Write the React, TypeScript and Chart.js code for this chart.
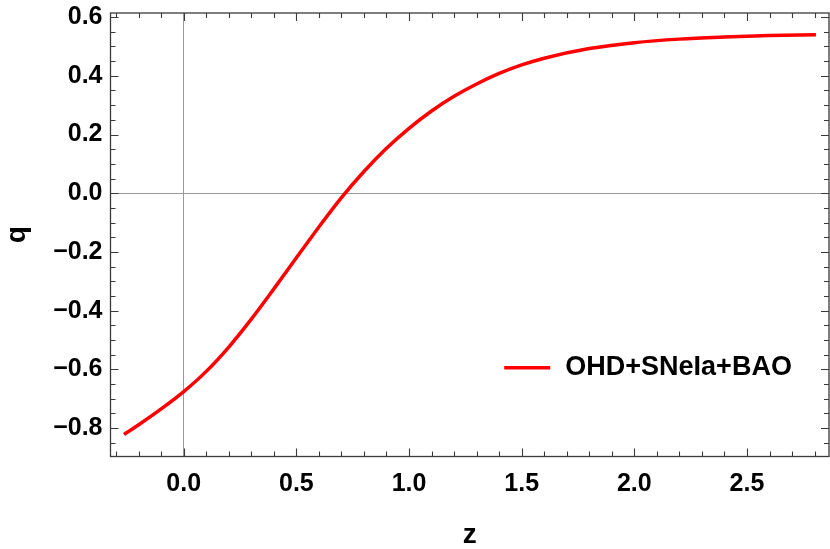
import React, { useEffect, useRef } from 'react';
import { Chart, registerables } from 'chart.js';

Chart.register(...registerables);

// Curve: deceleration parameter q versus redshift z
const zValues = [-0.265, -0.2, -0.1, 0, 0.1, 0.2, 0.3, 0.4, 0.5, 0.6, 0.7, 0.8, 0.9, 1.0, 1.1, 1.2, 1.3, 1.4, 1.5, 1.6, 1.8, 2.0, 2.2, 2.4, 2.6, 2.806];
const qValues = [-0.822, -0.789, -0.735, -0.676, -0.607, -0.524, -0.429, -0.326, -0.22, -0.115, -0.015, 0.074, 0.153, 0.221, 0.28, 0.33, 0.372, 0.408, 0.437, 0.46, 0.493, 0.513, 0.525, 0.532, 0.537, 0.54];

const seriesLabel = 'OHD+SNeIa+BAO';
const xTickValues = [0, 0.5, 1, 1.5, 2, 2.5];
const yTickValues = [-0.8, -0.6, -0.4, -0.2, 0, 0.2, 0.4, 0.6];
const xTitle = 'z';
const yTitle = 'q';

const FONT = '"Liberation Sans", Arial, Helvetica, sans-serif';

const fmt = (v: number) => {
  const s = Math.abs(v).toFixed(1);
  return v < -1e-9 ? '\u2212' + s : s;
};

const framePlugin = {
  id: 'frame',
  afterDraw(chart: any) {
    const ctx = chart.ctx;
    const { left, right, top, bottom } = chart.chartArea;
    const xs = chart.scales.x;
    const ys = chart.scales.y;
    ctx.save();
    ctx.strokeStyle = '#3a3a3a';
    ctx.lineWidth = 1.3;
    ctx.strokeRect(left, top, right - left, bottom - top);
    ctx.lineWidth = 1.1;
    ctx.beginPath();
    for (let i = -3; i <= 28; i++) {
      const v = i / 10;
      const px = Math.round(xs.getPixelForValue(v)) + 0.5;
      if (px < left || px > right) continue;
      const len = i % 5 === 0 ? 8 : 5;
      ctx.moveTo(px, bottom);
      ctx.lineTo(px, bottom - len);
      ctx.moveTo(px, top);
      ctx.lineTo(px, top + len);
    }
    for (let i = -17; i <= 12; i++) {
      const v = i * 0.05;
      const py = Math.round(ys.getPixelForValue(v)) + 0.5;
      if (py < top || py > bottom) continue;
      const len = i % 4 === 0 ? 8 : 5;
      ctx.moveTo(left, py);
      ctx.lineTo(left + len, py);
      ctx.moveTo(right, py);
      ctx.lineTo(right - len, py);
    }
    ctx.stroke();
    ctx.restore();
  },
};

const legendPlugin = {
  id: 'innerLegend',
  afterDraw(chart: any) {
    const ctx = chart.ctx;
    const { left, top, width, height } = chart.chartArea;
    const ds = chart.data.datasets[0];
    const y = top + 0.8 * height;
    const x0 = left + 0.548 * width;
    const x1 = left + 0.612 * width;
    const tx = left + 0.633 * width;
    ctx.save();
    ctx.strokeStyle = ds.borderColor;
    ctx.lineWidth = 3.5;
    ctx.beginPath();
    ctx.moveTo(x0, y);
    ctx.lineTo(x1, y);
    ctx.stroke();
    ctx.fillStyle = '#000';
    ctx.font = `bold 27px ${FONT}`;
    ctx.textBaseline = 'middle';
    ctx.textAlign = 'left';
    ctx.fillText(ds.label, tx, y);
    ctx.restore();
  },
};

export default function App() {
  const ref = useRef<HTMLCanvasElement>(null);
  useEffect(() => {
    document.body.style.margin = '0';
    const zeroGrid = (c: any) => (c.tick && Math.abs(c.tick.value) < 1e-9 ? '#9a9a9a' : 'rgba(0,0,0,0)');
    const chart = new Chart(ref.current as HTMLCanvasElement, {
      type: 'scatter',
      data: {
        datasets: [
          {
            label: seriesLabel,
            data: zValues.map((z, i) => ({ x: z, y: qValues[i] })),
            showLine: true,
            borderColor: '#ff0000',
            backgroundColor: '#ff0000',
            borderWidth: 3.5,
            pointRadius: 0,
            cubicInterpolationMode: 'monotone',
            fill: false,
          } as any,
        ],
      },
      options: {
        responsive: false,
        animation: false,
        layout: { padding: { top: 13, right: 1, left: 0, bottom: 0 } },
        plugins: { legend: { display: false }, tooltip: { enabled: false } },
        scales: {
          x: {
            type: 'linear',
            min: -0.325,
            max: 2.864,
            afterBuildTicks: (s: any) => {
              s.ticks = xTickValues.map((v) => ({ value: v }));
            },
            afterFit: (s: any) => {
              s.height = 92.5;
              s.paddingLeft = 0;
              s.paddingRight = 0;
            },
            grid: { color: zeroGrid, lineWidth: 1, drawTicks: false },
            border: { display: false },
            ticks: {
              autoSkip: false,
              maxRotation: 0,
              padding: 13,
              color: '#000',
              font: { family: FONT, size: 25, weight: 'bold' },
              callback: (v: any) => fmt(Number(v)),
            },
            title: {
              display: true,
              text: xTitle,
              color: '#000',
              font: { family: FONT, size: 28, weight: 'bold' },
              padding: { top: 0, bottom: -3 },
            },
          },
          y: {
            type: 'linear',
            min: -0.897,
            max: 0.614,
            afterBuildTicks: (s: any) => {
              s.ticks = yTickValues.map((v) => ({ value: v }));
            },
            afterFit: (s: any) => {
              s.width = 110.5;
              s.paddingTop = 0;
              s.paddingBottom = 0;
            },
            grid: { color: zeroGrid, lineWidth: 1, drawTicks: false },
            border: { display: false },
            ticks: {
              autoSkip: false,
              padding: 8,
              color: '#000',
              font: { family: FONT, size: 25, weight: 'bold' },
              callback: (v: any) => fmt(Number(v)),
            },
            title: {
              display: true,
              text: yTitle,
              color: '#000',
              font: { family: FONT, size: 28, weight: 'bold' },
              padding: { top: 0, bottom: 0 },
            },
          },
        },
      } as any,
      plugins: [framePlugin, legendPlugin],
    });
    return () => chart.destroy();
  }, []);
  return (
    <div style={{ width: 830, height: 549 }}>
      <canvas ref={ref} width={830} height={549} />
    </div>
  );
}
